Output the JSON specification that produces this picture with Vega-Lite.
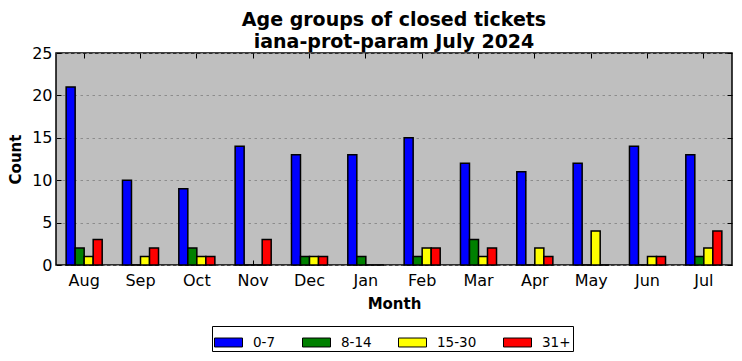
{
  "$schema": "https://vega.github.io/schema/vega-lite/v6.json",
  "width": 676,
  "height": 212,
  "autosize": {"type": "none"},
  "padding": {"left": 56, "top": 53, "right": 10, "bottom": 96},
  "background": "white",
  "title": {
    "text": ["Age groups of closed tickets", "iana-prot-param July 2024"],
    "font": "DejaVu Sans",
    "fontSize": 19,
    "fontWeight": "bold",
    "lineHeight": 22,
    "color": "black",
    "anchor": "middle",
    "offset": -16
  },
  "config": {
    "font": "DejaVu Sans",
    "view": {"stroke": "black", "strokeWidth": 1.5, "fill": "#bfbfbf"},
    "axis": {
      "labelFont": "DejaVu Sans",
      "labelFontSize": 16,
      "labelColor": "black",
      "titleFont": "DejaVu Sans",
      "titleFontSize": 15,
      "titleFontWeight": "bold",
      "titleColor": "black",
      "domain": false,
      "tickColor": "black",
      "tickSize": -5,
      "tickWidth": 1
    },
    "legend": {
      "labelFont": "DejaVu Sans",
      "labelFontSize": 13.5,
      "labelColor": "black"
    }
  },
  "data": {
    "values": [
      {"month": "Aug", "group": "0-7", "count": 21},
      {"month": "Aug", "group": "8-14", "count": 2},
      {"month": "Aug", "group": "15-30", "count": 1},
      {"month": "Aug", "group": "31+", "count": 3},
      {"month": "Sep", "group": "0-7", "count": 10},
      {"month": "Sep", "group": "8-14", "count": 0},
      {"month": "Sep", "group": "15-30", "count": 1},
      {"month": "Sep", "group": "31+", "count": 2},
      {"month": "Oct", "group": "0-7", "count": 9},
      {"month": "Oct", "group": "8-14", "count": 2},
      {"month": "Oct", "group": "15-30", "count": 1},
      {"month": "Oct", "group": "31+", "count": 1},
      {"month": "Nov", "group": "0-7", "count": 14},
      {"month": "Nov", "group": "8-14", "count": 0},
      {"month": "Nov", "group": "15-30", "count": 0},
      {"month": "Nov", "group": "31+", "count": 3},
      {"month": "Dec", "group": "0-7", "count": 13},
      {"month": "Dec", "group": "8-14", "count": 1},
      {"month": "Dec", "group": "15-30", "count": 1},
      {"month": "Dec", "group": "31+", "count": 1},
      {"month": "Jan", "group": "0-7", "count": 13},
      {"month": "Jan", "group": "8-14", "count": 1},
      {"month": "Jan", "group": "15-30", "count": 0},
      {"month": "Jan", "group": "31+", "count": 0},
      {"month": "Feb", "group": "0-7", "count": 15},
      {"month": "Feb", "group": "8-14", "count": 1},
      {"month": "Feb", "group": "15-30", "count": 2},
      {"month": "Feb", "group": "31+", "count": 2},
      {"month": "Mar", "group": "0-7", "count": 12},
      {"month": "Mar", "group": "8-14", "count": 3},
      {"month": "Mar", "group": "15-30", "count": 1},
      {"month": "Mar", "group": "31+", "count": 2},
      {"month": "Apr", "group": "0-7", "count": 11},
      {"month": "Apr", "group": "8-14", "count": 0},
      {"month": "Apr", "group": "15-30", "count": 2},
      {"month": "Apr", "group": "31+", "count": 1},
      {"month": "May", "group": "0-7", "count": 12},
      {"month": "May", "group": "8-14", "count": 0},
      {"month": "May", "group": "15-30", "count": 4},
      {"month": "May", "group": "31+", "count": 0},
      {"month": "Jun", "group": "0-7", "count": 14},
      {"month": "Jun", "group": "8-14", "count": 0},
      {"month": "Jun", "group": "15-30", "count": 1},
      {"month": "Jun", "group": "31+", "count": 1},
      {"month": "Jul", "group": "0-7", "count": 13},
      {"month": "Jul", "group": "8-14", "count": 1},
      {"month": "Jul", "group": "15-30", "count": 2},
      {"month": "Jul", "group": "31+", "count": 4}
    ]
  },
  "layer": [
    {
      "mark": {"type": "bar", "stroke": "black", "strokeWidth": 1.5},
      "encoding": {
        "x": {
          "field": "month",
          "type": "nominal",
          "sort": ["Aug", "Sep", "Oct", "Nov", "Dec", "Jan", "Feb", "Mar", "Apr", "May", "Jun", "Jul"],
          "scale": {"paddingInner": 0.36, "paddingOuter": 0.18},
          "axis": {
            "title": "Month",
            "labelAngle": 0,
            "labelPadding": 12,
            "titlePadding": 8,
            "grid": false
          }
        },
        "xOffset": {
          "field": "group",
          "type": "nominal",
          "sort": ["0-7", "8-14", "15-30", "31+"],
          "scale": {"paddingInner": 0, "paddingOuter": 0}
        },
        "y": {
          "field": "count",
          "type": "quantitative",
          "scale": {"domain": [0, 25], "nice": false},
          "axis": {
            "title": "Count",
            "values": [0, 5, 10, 15, 20, 25],
            "labelPadding": 9,
            "titlePadding": 8,
            "grid": true,
            "gridColor": "#8c8c8c",
            "gridDash": [2.5, 3.5],
            "gridWidth": 1
          }
        },
        "color": {
          "field": "group",
          "type": "nominal",
          "sort": ["0-7", "8-14", "15-30", "31+"],
          "scale": {
            "domain": ["0-7", "8-14", "15-30", "31+"],
            "range": ["#0000ff", "#008000", "#ffff00", "#ff0000"]
          },
          "legend": {
            "title": null,
            "orient": "none",
            "legendX": 156,
            "legendY": 273,
            "direction": "horizontal",
            "columns": 4,
            "columnPadding": 24,
            "strokeColor": "black",
            "fillColor": "white",
            "padding": 2,
            "symbolType": "M-1,-0.32H1V0.32H-1Z",
            "symbolSize": 784,
            "symbolStrokeColor": "black",
            "symbolStrokeWidth": 1,
            "symbolOpacity": 1,
            "labelOffset": 10
          }
        }
      }
    },
    {
      "mark": {"type": "bar", "opacity": 0},
      "encoding": {
        "x": {
          "field": "month",
          "type": "nominal",
          "sort": ["Aug", "Sep", "Oct", "Nov", "Dec", "Jan", "Feb", "Mar", "Apr", "May", "Jun", "Jul"],
          "scale": {"paddingInner": 0.36, "paddingOuter": 0.18},
          "axis": {"orient": "top", "labels": false, "title": null, "grid": false}
        },
        "y": {
          "field": "count",
          "type": "quantitative",
          "scale": {"domain": [0, 25], "nice": false},
          "axis": {"orient": "right", "labels": false, "title": null, "grid": false, "values": [0, 5, 10, 15, 20, 25]}
        }
      }
    }
  ],
  "resolve": {"scale": {"x": "independent", "y": "independent"}}
}
